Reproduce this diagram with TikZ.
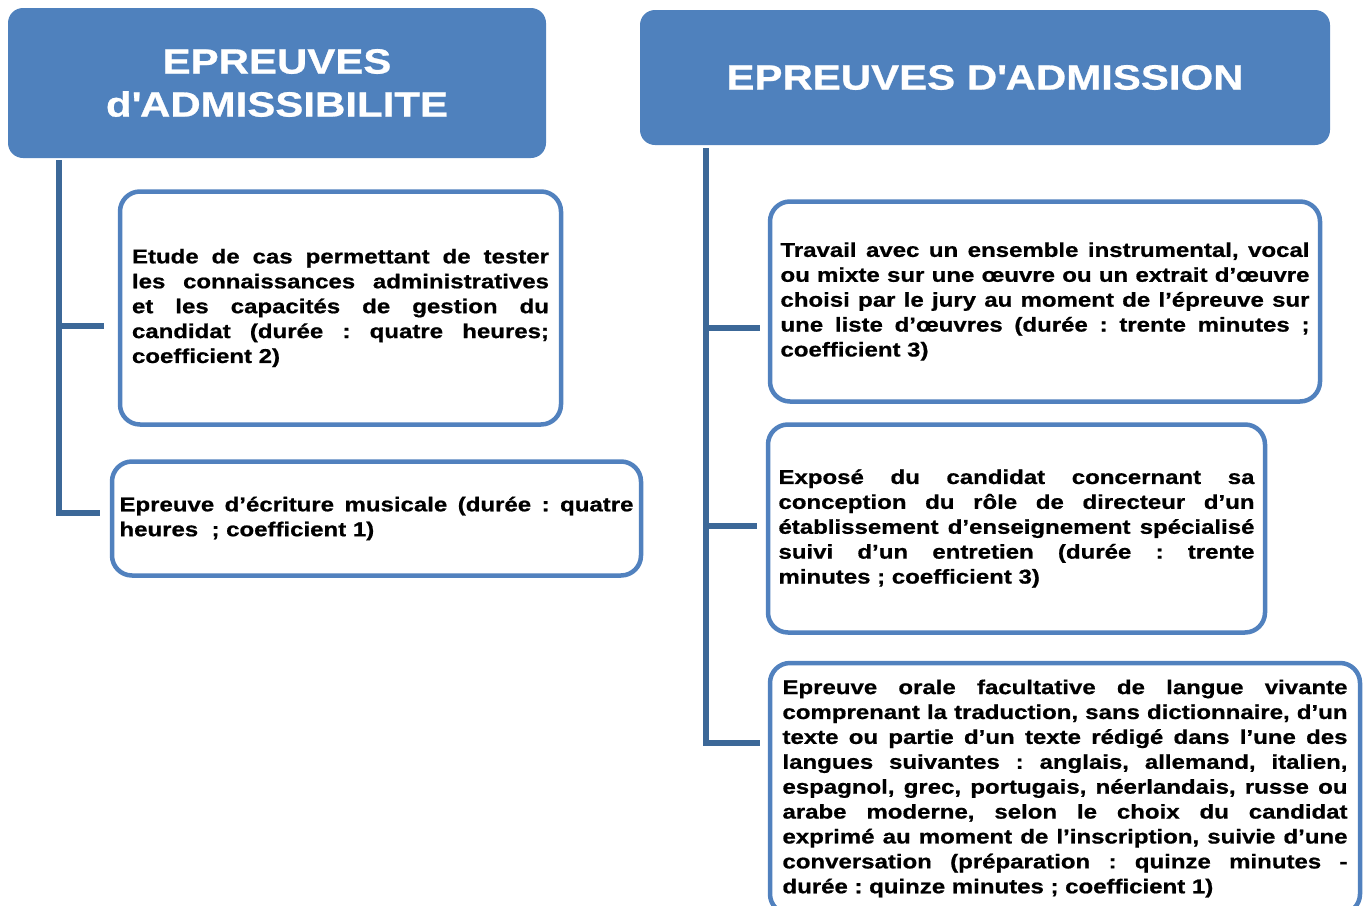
\documentclass[tikz,border=0pt]{standalone}
\usepackage{fontspec}
\setmainfont{Liberation Sans}[FakeStretch=1.2, BoldFeatures={FakeBold=0.8}]
\definecolor{headblue}{HTML}{4F81BD}
\definecolor{trunkblue}{HTML}{3C6898}
\definecolor{boxblue}{HTML}{5181BE}
\hyphenpenalty=10000
\frenchspacing
\begin{document}
\begin{tikzpicture}[x=1pt, y=-1pt,
		head/.style={fill=headblue, rounded corners=15pt, text=white, align=center,
			font=\bfseries\fontsize{35}{43}\selectfont, inner sep=0pt},
		leaf/.style={draw=boxblue, line width=4.5pt, rounded corners=20pt, fill=white,
			align=justify, inner ysep=0pt, font=\bfseries\fontsize{20}{24.9}\selectfont},
		trunk/.style={draw=trunkblue, line width=5.5pt}]
		\useasboundingbox (0,0) rectangle (1365,905);
		\clip (0,0) rectangle (1365,905);

		\node[head, minimum width=538pt, minimum height=150pt] at (277, 83) (admissib) {EPREUVES\\d\textquotesingle ADMISSIBILITE};
		\node[head, minimum width=690pt, minimum height=135pt] at (985, 77.5) (admission) {EPREUVES D\textquotesingle ADMISSION};

		\node[leaf, text width=417pt, inner xsep=12pt, minimum height=233pt] at (340.5, 308) (etude) {Etude de cas permettant de tester\linebreak les connaissances administratives\linebreak et les capacités de gestion du\linebreak candidat (durée : quatre heures;\linebreak coefficient 2)};
		\node[leaf, text width=514pt, inner xsep=7.5pt, minimum height=114pt] at (376.5, 518.5) (ecriture) {Epreuve d’écriture musicale (durée : quatre\linebreak heures \ ; coefficient 1)};

		\node[leaf, text width=529pt, inner xsep=10.5pt, minimum height=200pt] at (1045, 301.5) (travail) {Travail avec un ensemble instrumental, vocal\linebreak ou mixte sur une œuvre ou un extrait d’œuvre\linebreak choisi par le jury au moment de l’épreuve sur\linebreak une liste d’œuvres (durée : trente minutes ;\linebreak coefficient 3)};
		\node[leaf, text width=476pt, inner xsep=10.5pt, minimum height=208pt] at (1016.5, 528.5) (expose) {Exposé du candidat concernant sa\linebreak conception du rôle de directeur d’un\linebreak établissement d’enseignement spécialisé\linebreak suivi d’un entretien (durée : trente\linebreak minutes ; coefficient 3)};
		\node[leaf, text width=565pt, inner xsep=12.5pt, minimum height=251pt] at (1065, 788.5) (orale) {Epreuve orale facultative de langue vivante\linebreak comprenant la traduction, sans dictionnaire, d’un\linebreak texte ou partie d’un texte rédigé dans l’une des\linebreak langues suivantes : anglais, allemand, italien,\linebreak espagnol, grec, portugais, néerlandais, russe ou\linebreak arabe moderne, selon le choix du candidat\linebreak exprimé au moment de l’inscription, suivie d’une\linebreak conversation (préparation : quinze minutes -\linebreak durée : quinze minutes ; coefficient 1)};

		\coordinate (tl) at (59, 160);
		\coordinate (bl1) at (104, 326);
		\coordinate (bl2) at (100, 513);
		\draw [trunk](tl) |- (bl1);
		\draw [trunk](tl) |- (bl2);

		\coordinate (tr) at (706, 148);
		\coordinate (br1) at (760, 328);
		\coordinate (br2) at (757, 526);
		\coordinate (br3) at (760, 743);
		\draw [trunk](tr) |- (br1);
		\draw [trunk](tr) |- (br2);
		\draw [trunk](tr) |- (br3);

	\end{tikzpicture}
\end{document}
